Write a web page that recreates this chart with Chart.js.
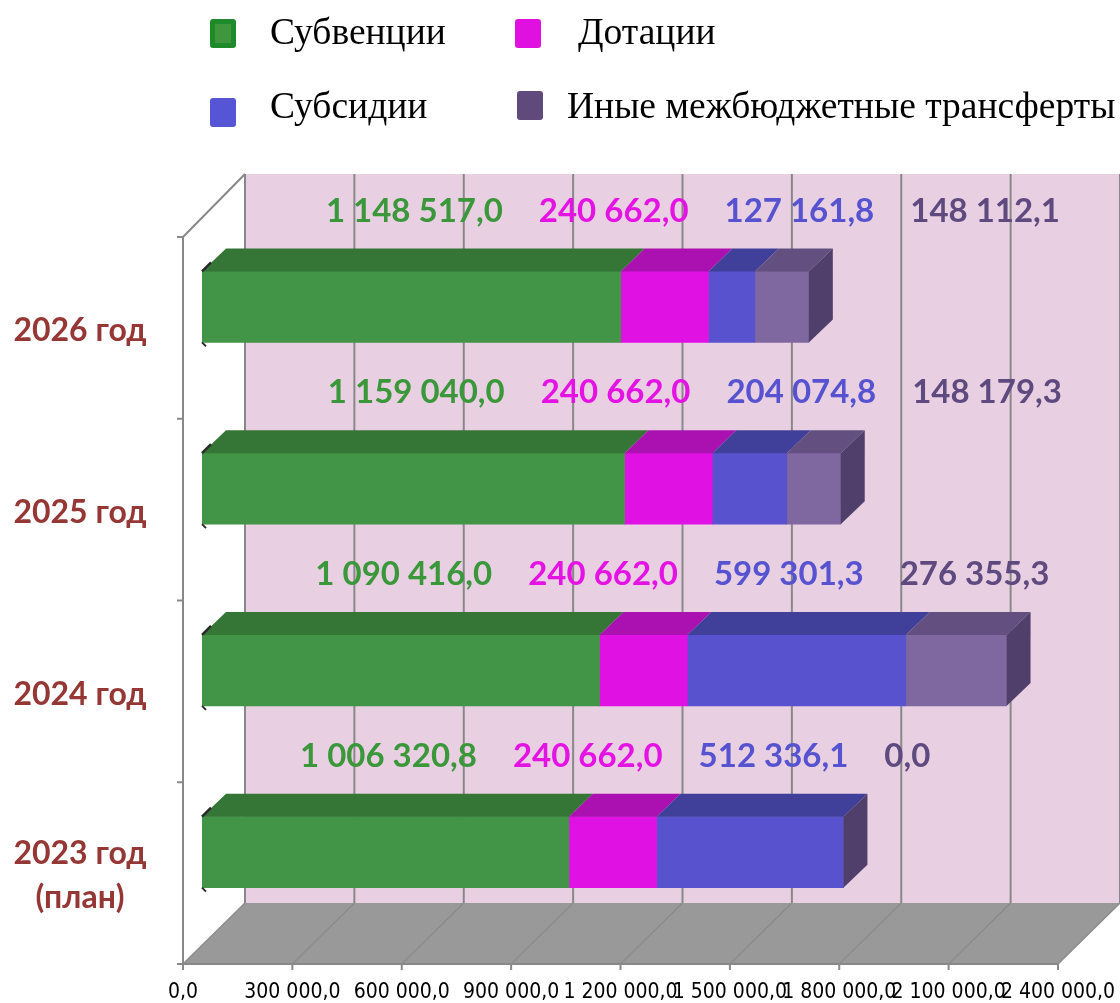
<!DOCTYPE html>
<html lang="ru">
<head>
<meta charset="utf-8">
<title>Межбюджетные трансферты</title>
<script src="https://cdn.jsdelivr.net/npm/chart.js@4.4.1/dist/chart.umd.min.js"></script>
<style>
  html, body { margin: 0; padding: 0; background: #ffffff; }
  #wrap { width: 1120px; height: 1003px; }
</style>
</head>
<body>
<div id="wrap"><canvas id="chart" width="1120" height="1003"></canvas></div>
<script>
// данные диаграммы
const categories = [['2026 год'], ['2025 год'], ['2024 год'], ['2023 год', '(план)']];
const seriesNames = ['Субвенции', 'Дотации', 'Субсидии', 'Иные межбюджетные трансферты'];
const subventions = [1148517.0, 1159040.0, 1090416.0, 1006320.8];
const dotations = [240662.0, 240662.0, 240662.0, 240662.0];
const subsidies = [127161.8, 204074.8, 599301.3, 512336.1];
const otherTransfers = [148112.1, 148179.3, 276355.3, 0.0];
const xTicks = [0, 300000, 600000, 900000, 1200000, 1500000, 1800000, 2100000, 2400000];

// цвета: лицевая грань, верхняя грань, подпись
const frontColors = ['#429446', '#e011e3', '#5852ce', '#7f67a0'];
const topColors = ['#357535', '#ab10b0', '#40409a', '#634f80'];
const labelColors = ['#3a973a', '#e413e4', '#5652d0', '#5e4a7e'];
const legendColors = ['#1e8a2a', '#e010e0', '#5555d5', '#5f4a7b'];
const sideColor = '#4f3f6a';

// смещения 3D (относительно плоскости столбцов)
const BAR_DEPTH = { dx: 24, dy: -23 };
const FRONT = { dx: -19, dy: 21 };
const BACK = { dx: 43, dy: -40 };

function fmt(v) {
  const parts = v.toFixed(1).split('.');
  const int = parts[0].replace(/\B(?=(\d{3})+(?!\d))/g, ' ');
  return int + ',' + parts[1];
}

function poly(ctx, pts, fill) {
  ctx.beginPath();
  ctx.moveTo(pts[0][0], pts[0][1]);
  for (let i = 1; i < pts.length; i++) ctx.lineTo(pts[i][0], pts[i][1]);
  ctx.closePath();
  ctx.fillStyle = fill;
  ctx.fill();
}

function line(ctx, x1, y1, x2, y2, color, w) {
  ctx.beginPath();
  ctx.moveTo(x1, y1);
  ctx.lineTo(x2, y2);
  ctx.strokeStyle = color;
  ctx.lineWidth = w;
  ctx.stroke();
}

// стены, пол, сетка и оси
const wallsPlugin = {
  id: 'walls',
  beforeDatasetsDraw(chart) {
    const { ctx, chartArea, scales } = chart;
    const xs = scales.x;
    const top = chartArea.top, bottom = chartArea.bottom;
    const x0 = xs.getPixelForValue(0);
    const xMax = xs.getPixelForValue(xTicks[xTicks.length - 1]);
    const wallTop = top + BACK.dy - 2;
    ctx.save();
    // задняя стена
    poly(ctx, [[x0 + BACK.dx, wallTop], [xMax + BACK.dx + 5, wallTop],
               [xMax + BACK.dx + 5, bottom + BACK.dy], [x0 + BACK.dx, bottom + BACK.dy]], '#e8d0e2');
    // пол
    poly(ctx, [[x0 + BACK.dx, bottom + BACK.dy], [xMax + BACK.dx, bottom + BACK.dy],
               [xMax + FRONT.dx, bottom + FRONT.dy], [x0 + FRONT.dx, bottom + FRONT.dy]], '#999999');
    // линии сетки
    xTicks.forEach(v => {
      const px = xs.getPixelForValue(v);
      line(ctx, px + BACK.dx, wallTop, px + BACK.dx, bottom + BACK.dy, '#888888', 2);
      line(ctx, px + BACK.dx, bottom + BACK.dy, px + FRONT.dx, bottom + FRONT.dy, '#8c8c8c', 1.5);
    });
    // левая стенка
    line(ctx, x0 + FRONT.dx, top + FRONT.dy, x0 + BACK.dx, wallTop, '#888888', 2);
    line(ctx, x0 + FRONT.dx, top + FRONT.dy, x0 + FRONT.dx, bottom + FRONT.dy, '#888888', 2);
    // горизонтальная ось
    line(ctx, x0 + FRONT.dx, bottom + FRONT.dy, xMax + FRONT.dx, bottom + FRONT.dy, '#888888', 2);
    const step = (bottom - top) / categories.length;
    for (let i = 0; i <= categories.length; i++) {
      const y = top + FRONT.dy + i * step;
      line(ctx, x0 + FRONT.dx - 6, y, x0 + FRONT.dx, y, '#888888', 2);
    }
    ctx.font = '21px "Liberation Sans Narrow", "DejaVu Sans Condensed", sans-serif';
    ctx.fillStyle = '#000000';
    ctx.textAlign = 'center';
    ctx.textBaseline = 'middle';
    xTicks.forEach(v => {
      const px = xs.getPixelForValue(v) + FRONT.dx;
      line(ctx, px, bottom + FRONT.dy, px, bottom + FRONT.dy + 6, '#888888', 2);
      ctx.fillText(fmt(v), px, bottom + FRONT.dy + 29);
    });
    ctx.restore();
  },
  afterDatasetsDraw(chart) {
    const { ctx, scales } = chart;
    const n = chart.data.datasets.length;
    ctx.save();
    categories.forEach((cat, i) => {
      let last = null;
      for (let d = 0; d < n; d++) {
        const el = chart.getDatasetMeta(d).data[i];
        const h = el.height / 2;
        const yTop = el.y - h;
        const a = Math.min(el.base, el.x), b = Math.max(el.base, el.x);
        if (b > a) {
          poly(ctx, [[a, yTop], [b, yTop], [b + BAR_DEPTH.dx, yTop + BAR_DEPTH.dy],
                     [a + BAR_DEPTH.dx, yTop + BAR_DEPTH.dy]], topColors[d]);
        }
        last = { x: b, yTop: yTop, yBot: el.y + h };
      }
      // правая боковая грань
      poly(ctx, [[last.x, last.yTop], [last.x + BAR_DEPTH.dx, last.yTop + BAR_DEPTH.dy],
                 [last.x + BAR_DEPTH.dx, last.yBot + BAR_DEPTH.dy], [last.x, last.yBot]], sideColor);
      // левая кромка
      const first = chart.getDatasetMeta(0).data[i];
      line(ctx, first.base, last.yTop, first.base + 9, last.yTop - 9, '#2a2a2a', 2.5);
      line(ctx, first.base, last.yBot, first.base + 4, last.yBot + 4, '#2a2a2a', 2);
    });

    // подписи значений
    ctx.font = 'bold 33px Lato, "Open Sans", sans-serif';
    ctx.textBaseline = 'middle';
    ctx.textAlign = 'center';
    const GAP = 36;
    categories.forEach((cat, i) => {
      let prevRight = null;
      for (let d = 0; d < n; d++) {
        const el = chart.getDatasetMeta(d).data[i];
        const txt = fmt(chart.data.datasets[d].data[i]);
        const w = ctx.measureText(txt).width;
        let cx = (el.base + el.x) / 2 + 3;
        if (prevRight !== null) cx = prevRight + GAP + w / 2;
        prevRight = cx + w / 2;
        ctx.fillStyle = labelColors[d];
        ctx.fillText(txt, cx, el.y - 96);
      }
    });

    // подписи категорий
    ctx.font = 'bold 32px Lato, "Open Sans", sans-serif';
    ctx.fillStyle = '#953735';
    categories.forEach((cat, i) => {
      const yc = scales.y.getPixelForValue(i) + FRONT.dy + 3;
      const lh = 44;
      cat.forEach((t, k) => {
        ctx.fillText(t, 80, yc + (k - (cat.length - 1) / 2) * lh);
      });
    });

    // легенда: [маркер x, маркер y, текст x]
    const legendPos = [[210, 33, 270], [515, 33, 578], [210, 112, 270], [517, 105, 567]];
    ctx.font = '37.5px "Liberation Serif", "DejaVu Serif", serif';
    ctx.textAlign = 'left';
    seriesNames.forEach((name, d) => {
      const [mx, my, tx] = legendPos[d];
      ctx.beginPath();
      ctx.roundRect(mx, my - 14, 26, 29, 3);
      ctx.fillStyle = legendColors[d];
      ctx.fill();
      if (d === 0) {
        ctx.fillStyle = '#3f963c';
        ctx.fillRect(mx + 5, my - 9, 16, 19);
      }
      ctx.fillStyle = '#000000';
      ctx.fillText(name, tx, d < 2 ? 34 : 108);
    });
    ctx.restore();
  }
};

const datasets = [subventions, dotations, subsidies, otherTransfers].map((arr, d) => ({
  label: seriesNames[d],
  data: arr,
  backgroundColor: frontColors[d],
  borderWidth: 0,
  barThickness: 71
}));

new Chart(document.getElementById('chart'), {
  type: 'bar',
  data: { labels: categories, datasets: datasets },
  options: {
    indexAxis: 'y',
    responsive: false,
    animation: false,
    devicePixelRatio: 1,
    layout: { padding: { left: 202, right: 43, top: 216, bottom: 60 } },
    plugins: { legend: { display: false }, tooltip: { enabled: false } },
    scales: {
      x: { type: 'linear', stacked: true, min: 0, max: 2400000, display: false },
      y: { stacked: true, display: false }
    }
  },
  plugins: [wallsPlugin]
});
</script>
</body>
</html>
